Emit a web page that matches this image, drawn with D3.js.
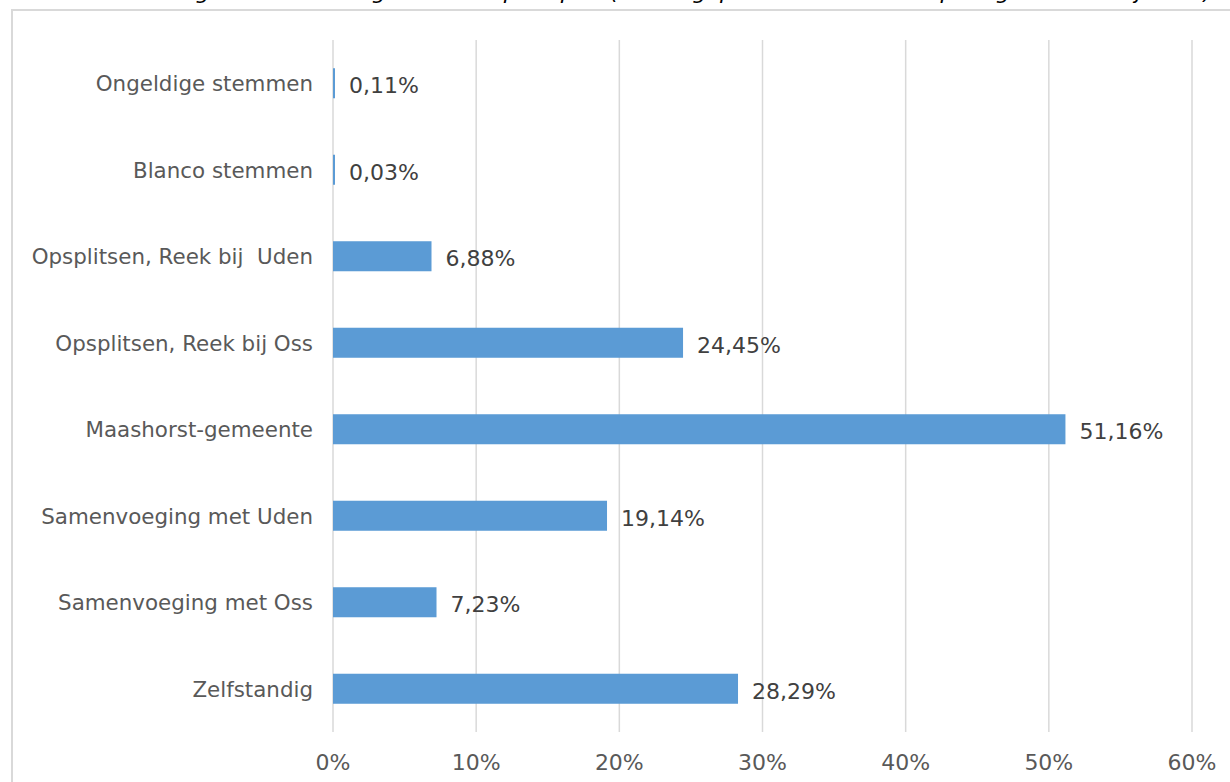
<!DOCTYPE html>
<html lang="nl">
<head>
    <meta charset="UTF-8">
    <title>Verdeling stemmen</title>
    <style>
        body {
            margin: 0;
            background: #fff;
        }

        svg {
            display: block;
            font-family: "DejaVu Sans", Verdana, sans-serif;
        }
    </style>
</head>

<body>
    <svg id="chart"></svg>
</body>

<script src="https://cdn.jsdelivr.net/npm/d3@7"></script>

<script>
    // categories top to bottom, values in percent
    let categories = [
        "Ongeldige stemmen",
        "Blanco stemmen",
        "Opsplitsen, Reek bij  Uden",
        "Opsplitsen, Reek bij Oss",
        "Maashorst-gemeente",
        "Samenvoeging met Uden",
        "Samenvoeging met Oss",
        "Zelfstandig"
    ]
    let values = [0.11, 0.03, 6.88, 24.45, 51.16, 19.14, 7.23, 28.29]
    let tickValues = [0, 10, 20, 30, 40, 50, 60]
    let title = "Figuur 1: Verdeling stemmen per optie (alleen geplaatste stemmen op de gemeente bij Reek)"

    let width = 1230;
    let height = 782;

    let svg = d3.select("#chart")
        .attr("width", width)
        .attr("height", height)

    let nl = d3.formatLocale({ decimal: ",", thousands: ".", grouping: [3], currency: ["€", ""] })
    let fmtValue = nl.format(".2f")

    let margin = { left: 333, right: 38, top: 40, bottom: 50 }

    let xScale = d3.scaleLinear()
        .domain([0, 60])
        .range([margin.left, width - margin.right])

    let yScale = d3.scaleBand()
        .domain(categories)
        .range([margin.top, height - margin.bottom])
        .paddingInner(0.653)
        .paddingOuter(0.3265)

    // title sits above the frame, mostly cut off by the top edge
    svg.append("text")
        .attr("x", 1212)
        .attr("y", -1)
        .attr("text-anchor", "end")
        .attr("font-style", "italic")
        .attr("font-size", 22)
        .attr("fill", "#000")
        .text(title)

    // chart frame
    svg.append("rect")
        .attr("x", 12)
        .attr("y", 10)
        .attr("width", width)
        .attr("height", height)
        .attr("fill", "none")
        .attr("stroke", "#d9d9d9")
        .attr("stroke-width", 2)

    // gridlines
    svg.append("g")
        .selectAll("line")
        .data(tickValues)
        .enter()
        .append("line")
        .attr("x1", d => xScale(d))
        .attr("x2", d => xScale(d))
        .attr("y1", margin.top)
        .attr("y2", height - margin.bottom)
        .attr("stroke", "#d9d9d9")
        .attr("stroke-width", 1.5)

    // x tick labels
    svg.append("g")
        .selectAll("text")
        .data(tickValues)
        .enter()
        .append("text")
        .attr("x", d => xScale(d))
        .attr("y", 770)
        .attr("text-anchor", "middle")
        .attr("font-size", 22)
        .attr("fill", "#595959")
        .text(d => d + "%")

    let rows = categories.map((c, i) => ({ name: c, value: values[i] }))

    // bars
    svg.append("g")
        .selectAll("rect")
        .data(rows)
        .enter()
        .append("rect")
        .attr("x", xScale(0))
        .attr("y", d => yScale(d.name))
        .attr("width", d => Math.max(2, xScale(d.value) - xScale(0)))
        .attr("height", yScale.bandwidth())
        .attr("fill", "#5b9bd5")

    // category labels
    svg.append("g")
        .selectAll("text")
        .data(rows)
        .enter()
        .append("text")
        .attr("x", xScale(0) - 20)
        .attr("y", d => yScale(d.name) + yScale.bandwidth() / 2 + 8)
        .attr("text-anchor", "end")
        .attr("font-size", 21.4)
        .attr("fill", "#595959")
        .style("white-space", "pre")
        .text(d => d.name)

    // value labels
    svg.append("g")
        .selectAll("text")
        .data(rows)
        .enter()
        .append("text")
        .attr("x", d => Math.max(xScale(d.value), xScale(0) + 2) + 14)
        .attr("y", d => yScale(d.name) + yScale.bandwidth() / 2 + 10)
        .attr("font-size", 22)
        .attr("fill", "#404040")
        .text(d => fmtValue(d.value) + "%")
</script>

</html>
